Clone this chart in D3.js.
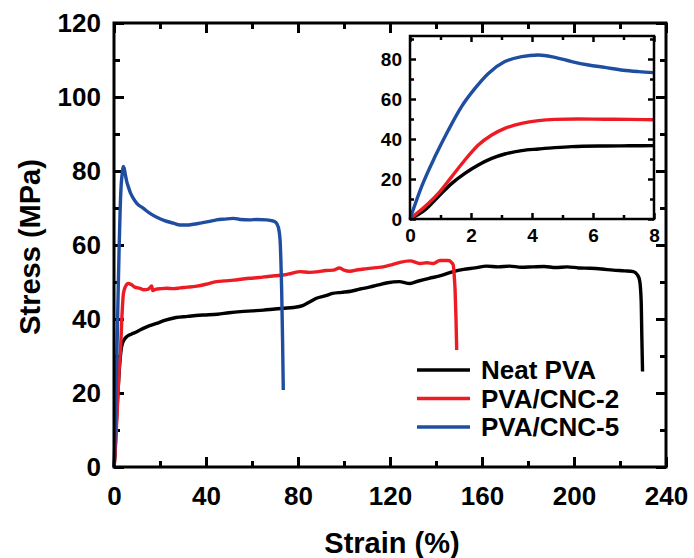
<!DOCTYPE html>
<html lang="en">
<head>
<meta charset="UTF-8">
<title>Stress-strain curves</title>
<script src="https://d3js.org/d3.v7.min.js"></script>
<style>
    body { margin: 0; background: #fff; }
    svg { display: block; font-family: "Liberation Sans", Arial, sans-serif; font-weight: bold; }
    .tick line { stroke: #000; }
    .tick text { fill: #000; }
</style>
</head>
<body>
<svg id="chart" width="694" height="558"></svg>
<script>
// series names and colours (legend order)
const seriesNames = ["Neat PVA", "PVA/CNC-2", "PVA/CNC-5"];
const seriesColors = ["#000000", "#ed1c24", "#1f4ea1"];

// main plot: [strain %, stress MPa]
const neatPVA = [[0,0],[0.4,3],[0.8,9],[1.2,14.5],[1.8,21],[2.3,26.2],[2.8,30],[3.3,32.5],[4.2,34.2],[5.5,35.2],[7.5,35.9],[9.5,36.4],[11.3,37],[14,37.8],[18.5,38.8],[22,39.6],[27,40.4],[32,40.7],[37,41],[40,41.1],[45,41.3],[50,41.7],[55,42],[60,42.2],[65,42.4],[70,42.7],[74,42.9],[78,43.1],[82,43.6],[85,44.6],[88,45.6],[92,46.3],[95,46.9],[99,47.2],[103,47.5],[107,48.1],[111,48.6],[115,49.2],[119,49.8],[124,50.1],[128.7,49.6],[132,50.2],[137,51],[142,51.7],[147.5,52.8],[152,53.4],[157,53.8],[162,54.3],[167,54.1],[172,54.3],[177,54.0],[182,54.1],[187,54.2],[192,53.9],[197,54.1],[202,53.8],[207,53.7],[212,53.5],[217,53.2],[222,53.0],[225.8,52.8],[227.5,52],[228.5,50.5],[229.2,45],[229.5,35],[229.8,25.8]];
const pvaCnc2 = [[0,0],[0.5,4],[1,10],[1.6,18],[2.2,26],[2.9,32.5],[3.4,40],[4.1,46.9],[5,48.8],[6.2,49.6],[7.5,49.3],[9,48.6],[11.3,48.3],[13,47.9],[15,48.1],[16.4,48.9],[16.8,47.7],[18,48.0],[20.5,48.2],[22.9,48.3],[26,48.2],[28.7,48.4],[32,48.6],[36,48.9],[40,49.4],[44.6,50.1],[48,50.3],[52,50.5],[56,50.8],[59,51],[63,51.2],[67,51.5],[70,51.7],[73.6,51.9],[77,52.3],[80.9,52.8],[85,52.6],[89,52.8],[92,53.1],[95.4,53.2],[98,53.8],[100,53.2],[102.6,52.9],[106,53.3],[110,53.6],[114,53.9],[117,54.1],[121,54.7],[124.3,55.3],[128.7,55.7],[133,55.0],[136,55.2],[138.8,55.0],[141.7,55.8],[145.3,55.8],[146.7,55.3],[147.5,54.6],[148.0,51],[148.3,47.8],[148.7,40],[149,31.6]];
const pvaCnc5 = [[0,0],[0.3,5],[0.7,15],[1.1,26],[1.5,38],[1.9,50],[2.3,61],[2.7,70],[3.1,76],[3.6,79.5],[4.0,81.2],[4.4,80.8],[5.0,78.8],[5.6,77],[6.2,75.8],[7.2,74],[8.4,72.6],[10,71.2],[12.8,69.9],[15.5,68.6],[18.6,67.5],[22,66.6],[25.8,65.9],[28.7,65.4],[31.6,65.4],[34.5,65.6],[37.4,65.9],[41,66.3],[44.6,66.8],[48,67.0],[51.9,67.2],[55,66.9],[59.1,66.8],[62,66.9],[66.4,66.8],[69,66.5],[70.4,66.1],[71.4,64.9],[72.2,61.4],[72.6,55],[72.9,47.8],[73.3,34],[73.6,20.8]];

// inset: first 8 % strain
const insetNeat = [[0,0],[0.49,4.5],[0.93,11.2],[1.37,17.8],[1.8,22.8],[2.24,27],[2.68,30.3],[3.11,32.5],[3.66,34.2],[4.21,35],[4.75,35.7],[5.3,36.2],[6.39,36.5],[7.2,36.6],[8,36.7]];
const insetCnc2 = [[0,0],[0.49,6.2],[0.93,12.8],[1.37,21.2],[1.8,29.5],[2.24,37],[2.68,42],[3.11,45.3],[3.66,47.8],[4.21,49.2],[4.75,49.8],[5.5,50],[6.39,49.9],[7.2,49.8],[8,49.6]];
const insetCnc5 = [[0,0],[0.38,16.2],[0.82,31.2],[1.26,44.5],[1.69,56.2],[2.13,65.3],[2.57,72.8],[3.11,78.7],[3.66,81.2],[4.21,82],[4.75,80.8],[5.3,78.7],[5.85,77],[6.39,75.8],[6.99,74.4],[7.5,73.7],[8,73.2]];

const mainTicksX = [0, 40, 80, 120, 160, 200, 240];
const mainTicksY = [0, 20, 40, 60, 80, 100, 120];
const insetTicksX = [0, 2, 4, 6, 8];
const insetTicksY = [0, 20, 40, 60, 80];

const svg = d3.select("#chart");

// ---------- main plot ----------
const m = { left: 114, top: 23, right: 666, bottom: 467 };
const x = d3.scaleLinear().domain([0, 240]).range([m.left, m.right]);
const y = d3.scaleLinear().domain([0, 120]).range([m.bottom, m.top]);

function drawTicks(g, axisFn, scale, values, size, labels, pad, fontSize, width) {
    const ax = axisFn(scale).tickValues(values).tickSize(-size).tickPadding(pad);
    if (!labels) ax.tickFormat("");
    g.call(ax);
    g.select(".domain").remove();
    g.selectAll(".tick line").attr("stroke-width", width);
    g.selectAll(".tick text").attr("font-size", fontSize);
}

const minorX = d3.range(20, 240, 40);
const minorY = d3.range(10, 120, 20);

drawTicks(svg.append("g").attr("transform", `translate(0,${m.bottom})`), d3.axisBottom, x, mainTicksX, 10, true, 20, 26, 3);
drawTicks(svg.append("g").attr("transform", `translate(0,${m.bottom})`), d3.axisBottom, x, minorX, 6, false, 0, 0, 3);
drawTicks(svg.append("g").attr("transform", `translate(0,${m.top})`), d3.axisTop, x, mainTicksX, 10, false, 0, 0, 3);
drawTicks(svg.append("g").attr("transform", `translate(0,${m.top})`), d3.axisTop, x, minorX, 6, false, 0, 0, 3);
drawTicks(svg.append("g").attr("transform", `translate(${m.left},0)`), d3.axisLeft, y, mainTicksY, 10, true, 13, 26, 3);
drawTicks(svg.append("g").attr("transform", `translate(${m.left},0)`), d3.axisLeft, y, minorY, 6, false, 0, 0, 3);
drawTicks(svg.append("g").attr("transform", `translate(${m.right},0)`), d3.axisRight, y, mainTicksY, 10, false, 0, 0, 3);
drawTicks(svg.append("g").attr("transform", `translate(${m.right},0)`), d3.axisRight, y, minorY, 6, false, 0, 0, 3);

const line = d3.line().x(d => x(d[0])).y(d => y(d[1])).curve(d3.curveMonotoneX);
[neatPVA, pvaCnc2, pvaCnc5].forEach((s, i) => {
    svg.append("path").datum(s)
        .attr("d", line)
        .attr("fill", "none")
        .attr("stroke", seriesColors[i])
        .attr("stroke-width", 3.4)
        .attr("stroke-linejoin", "round");
});

svg.append("rect")
    .attr("x", m.left).attr("y", m.top)
    .attr("width", m.right - m.left).attr("height", m.bottom - m.top)
    .attr("fill", "none").attr("stroke", "#000").attr("stroke-width", 3);

// axis titles
svg.append("text")
    .attr("x", 392).attr("y", 553)
    .attr("text-anchor", "middle").attr("font-size", 29)
    .text("Strain (%)");
svg.append("text")
    .attr("transform", "translate(30,247) rotate(-90)")
    .attr("text-anchor", "middle").attr("dominant-baseline", "central")
    .attr("font-size", 29)
    .text("Stress (MPa)");

// legend
const legend = svg.append("g");
seriesNames.forEach((name, i) => {
    const ly = 370 + i * 28.5;
    legend.append("line")
        .attr("x1", 417).attr("x2", 470).attr("y1", ly).attr("y2", ly)
        .attr("stroke", seriesColors[i]).attr("stroke-width", 3.5);
    legend.append("text")
        .attr("x", 481).attr("y", ly).attr("dy", "0.36em")
        .attr("font-size", 26)
        .text(name);
});

// ---------- inset ----------
const n = { left: 410, top: 36, right: 654, bottom: 219 };
const xi = d3.scaleLinear().domain([0, 8]).range([n.left, n.right]);
const yi = d3.scaleLinear().domain([0, 91.5]).range([n.bottom, n.top]);

svg.append("rect")
    .attr("x", n.left).attr("y", n.top)
    .attr("width", n.right - n.left).attr("height", n.bottom - n.top)
    .attr("fill", "#fff");

const minorXi = [1, 3, 5, 7];
const minorYi = [10, 30, 50, 70, 90];

drawTicks(svg.append("g").attr("transform", `translate(0,${n.bottom})`), d3.axisBottom, xi, insetTicksX, 6, true, 10, 19, 2.5);
drawTicks(svg.append("g").attr("transform", `translate(0,${n.bottom})`), d3.axisBottom, xi, minorXi, 4, false, 0, 0, 2.5);
drawTicks(svg.append("g").attr("transform", `translate(0,${n.top})`), d3.axisTop, xi, insetTicksX, 6, false, 0, 0, 2.5);
drawTicks(svg.append("g").attr("transform", `translate(0,${n.top})`), d3.axisTop, xi, minorXi, 4, false, 0, 0, 2.5);
drawTicks(svg.append("g").attr("transform", `translate(${n.left},0)`), d3.axisLeft, yi, insetTicksY, 6, true, 8, 19, 2.5);
drawTicks(svg.append("g").attr("transform", `translate(${n.left},0)`), d3.axisLeft, yi, minorYi, 4, false, 0, 0, 2.5);
drawTicks(svg.append("g").attr("transform", `translate(${n.right},0)`), d3.axisRight, yi, insetTicksY, 6, false, 0, 0, 2.5);
drawTicks(svg.append("g").attr("transform", `translate(${n.right},0)`), d3.axisRight, yi, minorYi, 4, false, 0, 0, 2.5);

const lineInset = d3.line().x(d => xi(d[0])).y(d => yi(d[1])).curve(d3.curveMonotoneX);
[insetNeat, insetCnc2, insetCnc5].forEach((s, i) => {
    svg.append("path").datum(s)
        .attr("d", lineInset)
        .attr("fill", "none")
        .attr("stroke", seriesColors[i])
        .attr("stroke-width", 3.4);
});

svg.append("rect")
    .attr("x", n.left).attr("y", n.top)
    .attr("width", n.right - n.left).attr("height", n.bottom - n.top)
    .attr("fill", "none").attr("stroke", "#000").attr("stroke-width", 2.5);
</script>
</body>
</html>
